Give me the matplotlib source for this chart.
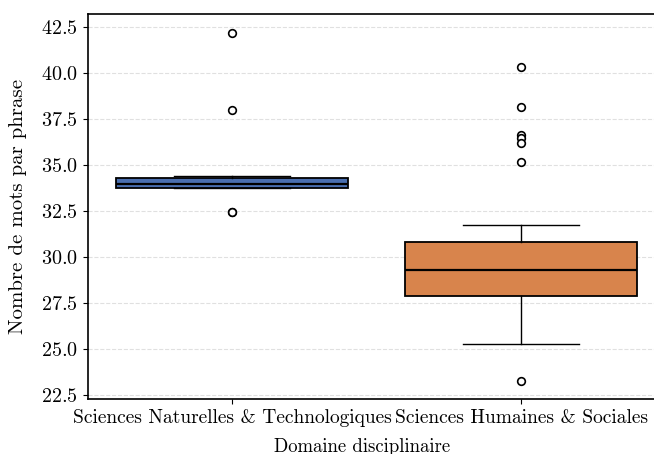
import matplotlib
matplotlib.use("Agg")
import matplotlib.pyplot as plt

plt.rcParams['font.family'] = 'serif'
plt.rcParams['font.serif'] = ['cmr10']
plt.rcParams['mathtext.fontset'] = 'cm'
plt.rcParams['axes.formatter.use_mathtext'] = True

# Domaines et statistiques
domaines = ['Sciences Naturelles & Technologiques', 'Sciences Humaines & Sociales']
q1 = [33.75, 27.88]
mediane = [33.98, 29.30]
q3 = [34.30, 30.80]
moustache_bas = [33.75, 25.28]
moustache_haut = [34.38, 31.75]
aberrants = [
    [42.2, 38.0, 32.45, 32.47],
    [40.35, 38.15, 36.65, 36.45, 36.2, 35.15, 23.25],
]
couleurs = ['#4A6FB0', '#D8844C']

stats = []
for i in range(len(domaines)):
    stats.append({
        'q1': q1[i], 'med': mediane[i], 'q3': q3[i],
        'whislo': moustache_bas[i], 'whishi': moustache_haut[i],
        'fliers': aberrants[i], 'label': domaines[i],
    })

fig = plt.figure(figsize=(6.54, 4.54), dpi=100)
ax = fig.add_axes([0.1338, 0.1211, 0.8838, 0.848])

bp = ax.bxp(stats, positions=[0, 1], widths=0.8, patch_artist=True,
            boxprops=dict(edgecolor='black', linewidth=1.3),
            medianprops=dict(color='black', linewidth=1.6),
            whiskerprops=dict(color='black', linewidth=1.0),
            capprops=dict(color='black', linewidth=1.0),
            flierprops=dict(marker='o', markerfacecolor='white',
                            markeredgecolor='black', markersize=5.5,
                            markeredgewidth=1.2))
for patch, c in zip(bp['boxes'], couleurs):
    patch.set_facecolor(c)

ax.set_xlim(-0.5, 1.5)
ax.set_ylim(22.28, 43.21)
ax.set_yticks([22.5, 25.0, 27.5, 30.0, 32.5, 35.0, 37.5, 40.0, 42.5])
ax.yaxis.grid(True, linestyle='--', color='#e0e0e0', linewidth=0.8)
ax.set_axisbelow(True)
ax.tick_params(axis='x', labelsize=14, pad=4)
ax.tick_params(axis='y', labelsize=14.5)
ax.set_xlabel('Domaine disciplinaire', fontsize=13.5)
ax.set_ylabel('Nombre de mots par phrase', fontsize=15)
# le centre visible de l'axe (figure rognee a droite)
ax.xaxis.set_label_coords((362 - 87.5) / 578, -0.1)
ax.yaxis.set_label_coords(-0.104, 0.5)
for s in ax.spines.values():
    s.set_linewidth(1.2)

fig.savefig('out.png', dpi=100)
